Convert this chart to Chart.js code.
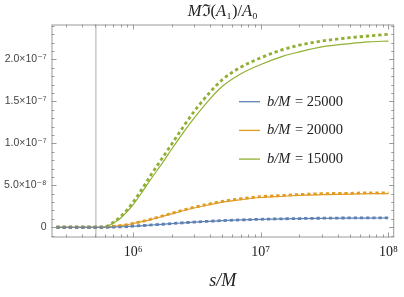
<!DOCTYPE html>
<html>
<head>
<meta charset="utf-8">
<script src="https://cdn.jsdelivr.net/npm/chart.js@4"></script>
<style>
  body { margin: 0; background: #fff; }
  #wrap { width: 404px; height: 297px; }
</style>
</head>
<body>
<div id="wrap"><canvas id="chart"></canvas></div>
<script>
// s/M sample points (log axis)
const sVals = [2.5e5, 4e5, 5.5e5, 6e5, 7e5, 8e5, 9e5, 1e6, 1.2e6, 1.4e6, 1.7e6, 2e6, 2.5e6, 3e6,
               4e6, 5e6, 7e6, 1e7, 1.5e7, 2e7, 3e7, 5e7, 7e7, 1e8];

// values in units of 1e-7
const blueSolid   = [0, 0, 0, 0, 0.003, 0.006, 0.009, 0.012, 0.02, 0.027, 0.035, 0.043, 0.053, 0.061,
                     0.071, 0.078, 0.087, 0.094, 0.100, 0.103, 0.106, 0.109, 0.110, 0.111];
const blueDotted  = [0, 0, 0, 0, 0.003, 0.006, 0.009, 0.013, 0.021, 0.028, 0.036, 0.044, 0.054, 0.062,
                     0.072, 0.079, 0.088, 0.095, 0.101, 0.104, 0.108, 0.111, 0.112, 0.113];
const orangeSolid = [0, 0, 0, 0.001, 0.01, 0.02, 0.03, 0.045, 0.07, 0.095, 0.13, 0.16, 0.20, 0.23,
                     0.27, 0.30, 0.33, 0.355, 0.37, 0.38, 0.39, 0.395, 0.40, 0.40];
const orangeDotted= [0, 0, 0, 0.001, 0.011, 0.021, 0.032, 0.047, 0.073, 0.099, 0.135, 0.166, 0.207, 0.238,
                     0.279, 0.309, 0.34, 0.365, 0.38, 0.39, 0.40, 0.405, 0.41, 0.41];
const greenSolid  = [0, 0, 0, 0.003, 0.05, 0.11, 0.19, 0.27, 0.44, 0.59, 0.77, 0.93, 1.14, 1.30,
                     1.53, 1.68, 1.83, 1.94, 2.04, 2.09, 2.15, 2.19, 2.21, 2.22];
const greenDotted = [0, 0, 0, 0.005, 0.06, 0.13, 0.21, 0.30, 0.48, 0.64, 0.83, 0.99, 1.21, 1.38,
                     1.61, 1.76, 1.91, 2.02, 2.12, 2.17, 2.22, 2.26, 2.28, 2.30];

const bVals = [25000, 20000, 15000];
const colors = ['#5E81B5', '#E19C24', '#8FB032'];

const xTickVals = [1e6, 1e7, 1e8];
const xTickLabels = ['10⁶', '10⁷', '10⁸'];
const xMinorTicks = [3e5, 4e5, 5e5, 6e5, 7e5, 8e5, 9e5, 2e6, 3e6, 4e6, 5e6, 6e6, 7e6, 8e6, 9e6,
                     2e7, 3e7, 4e7, 5e7, 6e7, 7e7, 8e7, 9e7];
const yTickVals = [0, 0.5, 1.0, 1.5, 2.0];
const yTickLabels = ['0', '5.0×10⁻⁸', '1.0×10⁻⁷', '1.5×10⁻⁷', '2.0×10⁻⁷'];
const yMinorTicks = [-0.1, 0.1, 0.2, 0.3, 0.4, 0.6, 0.7, 0.8, 0.9, 1.1, 1.2, 1.3, 1.4,
                     1.6, 1.7, 1.8, 1.9, 2.1, 2.2, 2.3, 2.4];
const vLineS = 5.1e5;

const titleParts = [['M', true], ['ℑ', false], ['(', false], ['A', true], ['₁', false],
                    [')', false], ['/', false], ['A', true], ['₀', false]];

const serif = '"Liberation Serif", "DejaVu Serif", serif';

function pts(arr) {
    return sVals.map((s, i) => ({ x: s, y: arr[i] }));
}

const solids = [blueSolid, orangeSolid, greenSolid];
const dotteds = [blueDotted, orangeDotted, greenDotted];

const datasets = [];
solids.forEach((arr, i) => {
    datasets.push({
        label: 'b/M = ' + bVals[i],
        bVal: bVals[i],
        data: pts(arr),
        borderColor: colors[i],
        borderWidth: 1.2,
        pointRadius: 0,
        fill: false,
        cubicInterpolationMode: 'monotone'
    });
});
dotteds.forEach((arr, i) => {
    datasets.push({
        label: 'dotted ' + bVals[i],
        data: pts(arr),
        borderColor: colors[i],
        borderWidth: 2.8,
        borderDash: [3.3, 2.9],
        borderCapStyle: 'butt',
        pointRadius: 0,
        fill: false,
        cubicInterpolationMode: 'monotone'
    });
});

// frame, inner ticks, vertical marker, title and legend
const framePlugin = {
    id: 'frame',
    beforeDatasetsDraw(chart) {
        const { ctx, chartArea: a, scales: { x } } = chart;
        const vx = x.getPixelForValue(vLineS);
        ctx.save();
        ctx.strokeStyle = '#c4c4c4';
        ctx.lineWidth = 1.4;
        ctx.beginPath();
        ctx.moveTo(vx, a.top);
        ctx.lineTo(vx, a.bottom);
        ctx.stroke();
        ctx.restore();
    },
    afterDraw(chart) {
        const { ctx, chartArea: a, scales: { x, y } } = chart;
        ctx.save();
        ctx.strokeStyle = '#9a9a9a';
        ctx.lineWidth = 1;
        ctx.strokeRect(a.left + 0.5, a.top + 0.5, a.right - a.left - 1, a.bottom - a.top - 1);

        ctx.beginPath();
        const xt = (v, len) => {
            const px = Math.round(x.getPixelForValue(v)) + 0.5;
            ctx.moveTo(px, a.bottom); ctx.lineTo(px, a.bottom - len);
            ctx.moveTo(px, a.top); ctx.lineTo(px, a.top + len);
        };
        const yt = (v, len) => {
            const py = Math.round(y.getPixelForValue(v)) + 0.5;
            ctx.moveTo(a.left, py); ctx.lineTo(a.left + len, py);
            ctx.moveTo(a.right, py); ctx.lineTo(a.right - len, py);
        };
        xTickVals.forEach(v => xt(v, 5));
        xMinorTicks.forEach(v => xt(v, 3));
        yTickVals.forEach(v => yt(v, 5));
        yMinorTicks.forEach(v => yt(v, 3));
        ctx.stroke();

        // title
        const cx = (a.left + a.right) / 2;
        ctx.fillStyle = '#222';
        ctx.textBaseline = 'middle';
        let w = 0;
        titleParts.forEach(([t, it]) => {
            ctx.font = (it ? 'italic ' : '') + '16.5px ' + serif;
            w += ctx.measureText(t).width;
        });
        let tx = cx - w / 2;
        ctx.textAlign = 'left';
        titleParts.forEach(([t, it]) => {
            ctx.font = (it ? 'italic ' : '') + '16.5px ' + serif;
            ctx.fillText(t, tx, 12);
            tx += ctx.measureText(t).width;
        });

        // legend
        chart.data.datasets.slice(0, 3).forEach((ds, i) => {
            const ly = 101.7 + i * 28.7;
            ctx.strokeStyle = ds.borderColor;
            ctx.lineWidth = 1.3;
            ctx.beginPath();
            ctx.moveTo(239, ly);
            ctx.lineTo(260, ly);
            ctx.stroke();
            ctx.fillStyle = '#222';
            ctx.font = 'italic 14.5px ' + serif;
            ctx.fillText('b/M', 267, ly);
            const bw = ctx.measureText('b/M').width;
            ctx.font = '14.5px ' + serif;
            ctx.fillText(' = ' + ds.bVal, 267 + bw + 1, ly);
        });
        ctx.restore();
    }
};

new Chart(document.getElementById('chart'), {
    type: 'line',
    data: { datasets: datasets },
    options: {
        responsive: true,
        maintainAspectRatio: false,
        animation: false,
        layout: { padding: { top: 24.5, right: 8, left: 0, bottom: 0 } },
        plugins: {
            legend: { display: false },
            tooltip: { enabled: false },
            title: { display: false }
        },
        scales: {
            x: {
                type: 'logarithmic',
                min: 2.29e5,
                max: 1.11e8,
                grid: { display: false, drawTicks: false },
                border: { display: false },
                afterBuildTicks: s => { s.ticks = xTickVals.map(v => ({ value: v })); },
                afterFit: s => { s.height = 59.5; },
                ticks: {
                    padding: 6,
                    maxRotation: 0,
                    autoSkip: false,
                    color: '#222',
                    font: { family: serif, size: 14 },
                    callback: (v) => xTickLabels[xTickVals.indexOf(v)]
                },
                title: {
                    display: true,
                    text: 's/M',
                    color: '#222',
                    font: { family: serif, size: 18, style: 'italic' },
                    padding: { top: 0, bottom: 5 }
                }
            },
            y: {
                type: 'linear',
                min: -0.122,
                max: 2.417,
                grid: { display: false, drawTicks: false },
                border: { display: false },
                afterBuildTicks: s => { s.ticks = yTickVals.map(v => ({ value: v })); },
                afterFit: s => { s.width = 51.5; },
                ticks: {
                    padding: 5,
                    autoSkip: false,
                    color: '#444',
                    font: { family: '"Liberation Sans", "DejaVu Sans", sans-serif', size: 10.5 },
                    callback: (v) => yTickLabels[yTickVals.indexOf(v)]
                }
            }
        }
    },
    plugins: [framePlugin]
});
</script>
</body>
</html>
